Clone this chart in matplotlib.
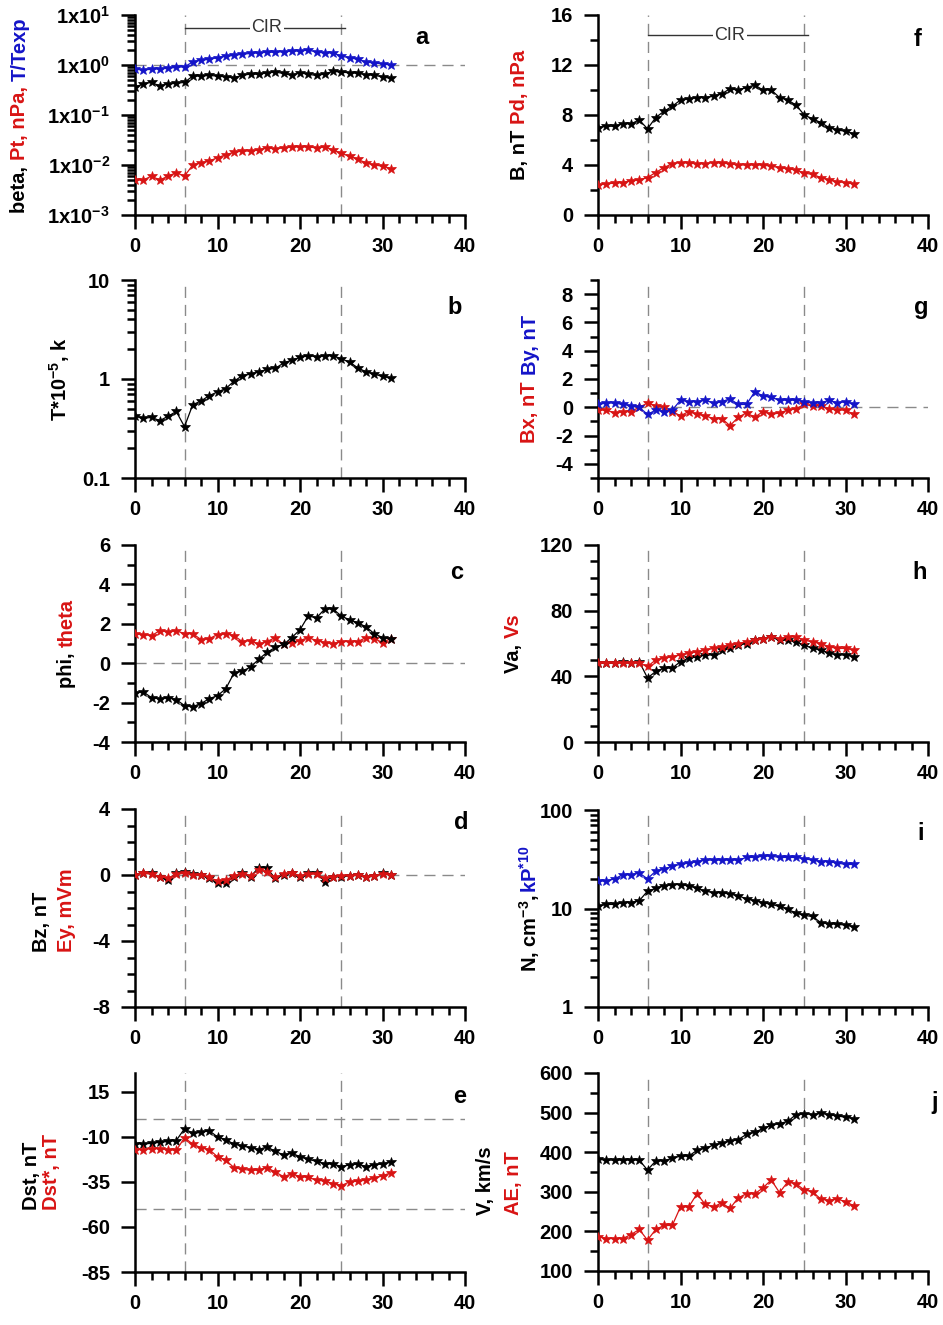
import numpy as np
import matplotlib
matplotlib.use('Agg')
import matplotlib.pyplot as plt
import matplotlib.ticker as mticker
import matplotlib.transforms as mtrans

plt.rcParams['font.family'] = ['Liberation Sans', 'DejaVu Sans']
plt.rcParams['font.weight'] = 'bold'
plt.rcParams['mathtext.fontset'] = 'custom'
plt.rcParams['mathtext.rm'] = 'Liberation Sans:bold'
plt.rcParams['mathtext.it'] = 'Liberation Sans:bold'
plt.rcParams['mathtext.bf'] = 'Liberation Sans:bold'
plt.rcParams['mathtext.default'] = 'rm'
plt.rcParams['axes.unicode_minus'] = False

hours = np.arange(32)

# a: beta (black), Pt nPa (red), T/Texp (blue)
beta = [0.36, 0.42, 0.45, 0.38, 0.42, 0.43, 0.45, 0.60, 0.60, 0.62, 0.60, 0.58, 0.56, 0.62, 0.66, 0.65,
        0.70, 0.72, 0.68, 0.62, 0.70, 0.65, 0.62, 0.66, 0.75, 0.72, 0.70, 0.68, 0.64, 0.62, 0.58, 0.54]
pt = [0.005, 0.005, 0.006, 0.005, 0.006, 0.007, 0.006, 0.010, 0.011, 0.012, 0.014, 0.016, 0.018, 0.019, 0.019, 0.020,
      0.022, 0.021, 0.022, 0.023, 0.023, 0.023, 0.022, 0.023, 0.020, 0.017, 0.015, 0.013, 0.011, 0.010, 0.0095, 0.0085]
t_texp = [0.82, 0.80, 0.82, 0.84, 0.86, 0.90, 0.92, 1.15, 1.25, 1.30, 1.40, 1.50, 1.55, 1.65, 1.70, 1.75,
          1.80, 1.80, 1.85, 1.90, 1.90, 2.00, 1.80, 1.75, 1.75, 1.50, 1.40, 1.30, 1.15, 1.10, 1.05, 1.00]

# b: T*10^-5
temp = [0.42, 0.40, 0.41, 0.38, 0.42, 0.47, 0.33, 0.55, 0.60, 0.68, 0.74, 0.80, 0.95, 1.08, 1.12, 1.18,
        1.25, 1.28, 1.45, 1.55, 1.65, 1.72, 1.68, 1.72, 1.72, 1.60, 1.48, 1.30, 1.18, 1.12, 1.06, 1.02]

# c: phi (black), theta (red)
phi = [-1.5, -1.45, -1.75, -1.8, -1.75, -1.85, -2.15, -2.2, -2.05, -1.8, -1.65, -1.3, -0.5, -0.4, -0.2, 0.2,
       0.55, 0.8, 0.95, 1.3, 1.7, 2.4, 2.3, 2.75, 2.75, 2.4, 2.2, 2.05, 1.85, 1.5, 1.3, 1.25]
theta = [1.5, 1.45, 1.4, 1.65, 1.6, 1.65, 1.5, 1.5, 1.2, 1.25, 1.45, 1.5, 1.4, 1.1, 1.15, 0.95,
         1.1, 1.3, 0.95, 1.05, 1.15, 1.3, 1.15, 1.05, 1.0, 1.1, 1.1, 1.1, 1.3, 1.25, 1.05, 1.25]

# d: Bz (black), Ey (red)
bz = [0.0, 0.15, 0.1, -0.15, -0.3, 0.1, 0.2, 0.05, 0.0, -0.2, -0.5, -0.5, -0.1, 0.15, -0.1, 0.45,
      0.4, -0.2, 0.0, 0.15, -0.1, 0.1, 0.15, -0.4, -0.1, -0.1, -0.05, 0.0, -0.15, -0.05, 0.1, 0.0]
ey = [0.0, 0.1, 0.05, -0.1, -0.2, 0.05, 0.1, 0.0, 0.0, -0.15, -0.35, -0.3, -0.05, 0.05, -0.05, 0.3,
      0.2, -0.15, 0.05, 0.1, -0.05, 0.05, 0.05, -0.2, -0.1, -0.05, -0.05, 0.0, -0.1, -0.05, 0.05, 0.0]

# e: Dst (black), Dst* (red)
dst = [-13.7, -14, -13.5, -13, -12.5, -12, -5.4, -8, -7.5, -6.5, -10, -11.5, -14, -15, -16, -17,
       -15.5, -18, -20, -19, -21, -22.5, -23.5, -25, -25, -26.5, -25.5, -25, -26.5, -25.5, -25, -24]
dst_star = [-17, -17, -16.5, -16.5, -17, -17.5, -10.4, -14, -16, -17, -21, -23, -27, -28, -28.5, -28.5,
            -27, -29.5, -32, -30.5, -32, -32.5, -34, -34.5, -36, -37, -35, -34.5, -34, -33, -31.5, -30]

# f: B (black), Pd (red)
b_tot = [7.0, 7.1, 7.1, 7.3, 7.3, 7.6, 6.9, 7.8, 8.3, 8.7, 9.2, 9.3, 9.4, 9.4, 9.5, 9.7,
         10.1, 10.0, 10.2, 10.4, 10.0, 10.0, 9.4, 9.2, 8.8, 8.0, 7.7, 7.4, 7.0, 6.8, 6.7, 6.5]
pd_ = [2.4, 2.5, 2.55, 2.6, 2.75, 2.8, 3.0, 3.4, 3.8, 4.1, 4.2, 4.15, 4.1, 4.1, 4.2, 4.15,
       4.1, 4.0, 4.0, 4.0, 4.0, 3.9, 3.8, 3.7, 3.6, 3.35, 3.25, 3.0, 2.8, 2.65, 2.6, 2.5]

# g: Bx (red), By (blue)
bx = [-0.2, -0.2, -0.4, -0.3, -0.3, 0.0, 0.3, 0.1, 0.0, -0.3, -0.6, -0.3, -0.5, -0.6, -0.8, -0.8,
      -1.3, -0.7, -0.4, -0.7, -0.3, -0.5, -0.4, -0.2, -0.1, 0.2, 0.1, 0.1, -0.1, -0.2, -0.2, -0.5]
by = [0.2, 0.3, 0.3, 0.2, 0.1, 0.0, -0.5, -0.2, -0.3, -0.2, 0.5, 0.4, 0.4, 0.5, 0.3, 0.4,
      0.6, 0.2, 0.2, 1.1, 0.8, 0.7, 0.5, 0.5, 0.5, 0.4, 0.3, 0.3, 0.5, 0.3, 0.4, 0.2]

# h: Va (black), Vs (red)
va = [48, 48, 48, 49, 48, 49, 39, 43, 45, 45, 49, 51, 52, 53, 53, 56,
      57, 59, 60, 62, 63, 64, 62, 62, 61, 59, 57, 56, 54, 53, 53, 52]
vs = [48, 48, 48, 48, 48, 48, 46, 50, 51, 52, 53, 54, 55, 56, 57, 58,
      59, 60, 61, 62, 63, 64, 63, 64, 64, 62, 61, 60, 58, 57, 57, 56]

# i: N (black), Kp*10 (blue)
dens = [10.5, 11, 11, 11.5, 11.5, 12, 15, 16, 17, 17.5, 17.5, 17, 16, 15, 14.5, 14.5,
        14, 13.5, 12.5, 12, 11.5, 11, 10.5, 9.8, 9, 8.5, 8.3, 7.2, 7.0, 6.9, 6.8, 6.5]
kp10 = [19, 19, 20, 22, 22, 23, 20, 24, 25, 27, 28, 29, 30, 31, 31, 31,
        31, 31, 33, 33, 34, 34, 33, 33, 33, 32, 31, 30, 30, 29, 28, 28]

# j: V (black), AE (red)
vsw = [382, 380, 380, 380, 380, 380, 355, 378, 378, 385, 390, 390, 405, 410, 418, 422,
       428, 432, 445, 450, 460, 468, 472, 478, 495, 497, 495, 498, 495, 492, 488, 485]
ae = [187, 182, 182, 182, 192, 205, 178, 205, 215, 215, 262, 262, 295, 268, 262, 272,
      258, 285, 295, 295, 310, 330, 298, 325, 320, 305, 300, 282, 278, 282, 275, 265]

cir_start, cir_end = 6, 25

RED = '#d81414'
BLUE = '#1414c8'
GREY = '#8a8a8a'
FS = 14.5

fig = plt.figure(figsize=(9.43, 13.25), dpi=100)
W, H = 943, 1325


def make_ax(left_px, top_px, bottom_px):
    return fig.add_axes([left_px / W, 1 - bottom_px / H, 330 / W, (bottom_px - top_px) / H])


def style(ax):
    for s in ['top', 'right']:
        ax.spines[s].set_visible(False)
    for s in ['left', 'bottom']:
        ax.spines[s].set_linewidth(1.8)
    ax.set_xlim(0, 40)
    ax.xaxis.set_major_locator(mticker.MultipleLocator(10))
    ax.xaxis.set_minor_locator(mticker.MultipleLocator(2))
    ax.tick_params(which='major', length=10, width=1.8, labelsize=FS)
    ax.tick_params(which='minor', length=6, width=1.8)
    ax.tick_params(axis='x', which='major', pad=6)
    ax.tick_params(axis='y', which='major', pad=8)
    ax.axvline(cir_start, color=GREY, lw=1, dashes=(8, 5), zorder=0)
    ax.axvline(cir_end, color=GREY, lw=1, dashes=(8, 5), zorder=0)


def series(ax, y, color):
    ax.plot(hours, y, color=color, lw=0.9, marker='*', ms=7, mew=0.5, zorder=3)


def letter(ax, s, x, y):
    ax.text(x, y, s, transform=ax.transAxes, fontsize=17, fontweight='bold', ha='center', va='center')


def cir(ax, y):
    tr = mtrans.blended_transform_factory(ax.transData, ax.transAxes)
    ax.plot([cir_start, cir_end + 0.5], [y, y], color='#333333', lw=1, transform=tr)
    ax.text(16, y, 'CIR', transform=tr, ha='center', va='center', fontsize=13, fontweight='normal',
            color='#333333', bbox=dict(facecolor='white', edgecolor='none', pad=1))


def color_label(ax, x_px, parts, bottom_px=None):
    r = fig.canvas.get_renderer()
    axbox = ax.get_window_extent(r)
    x = (x_px - axbox.x0) / axbox.width
    texts = []
    for s, c in parts:
        t = ax.text(x, 0.5, s, color=c, rotation=90, transform=ax.transAxes, ha='center', va='bottom',
                    fontsize=FS, fontweight='bold')
        texts.append(t)
    hs = [t.get_window_extent(r).height / axbox.height for t in texts]
    if bottom_px is None:
        y = 0.5 - sum(hs) / 2
    else:
        y = ((H - bottom_px) - axbox.y0) / axbox.height
    for t, h in zip(texts, hs):
        t.set_y(y)
        y += h


def log_fmt(v, pos):
    e = int(round(np.log10(v)))
    return '1x10$^{%d}$' % e


def plain_fmt(v, pos):
    return '%g' % v


# --- left column ---
ax_a = make_ax(135, 15, 215)
style(ax_a)
ax_a.set_yscale('log')
ax_a.set_ylim(1e-3, 1e1)
ax_a.yaxis.set_major_locator(mticker.LogLocator(base=10, numticks=10))
ax_a.yaxis.set_minor_locator(mticker.LogLocator(base=10, subs=np.arange(2, 10), numticks=10))
ax_a.yaxis.set_major_formatter(mticker.FuncFormatter(log_fmt))
ax_a.yaxis.set_minor_formatter(mticker.NullFormatter())
ax_a.axhline(1, color=GREY, lw=1, dashes=(8, 5), zorder=0)
series(ax_a, t_texp, BLUE)
series(ax_a, beta, 'black')
series(ax_a, pt, RED)
cir(ax_a, 0.935)
letter(ax_a, 'a', 0.87, 0.89)

ax_b = make_ax(135, 280, 478)
style(ax_b)
ax_b.set_yscale('log')
ax_b.set_ylim(0.1, 10)
ax_b.yaxis.set_major_locator(mticker.LogLocator(base=10, numticks=10))
ax_b.yaxis.set_minor_locator(mticker.LogLocator(base=10, subs=np.arange(2, 10), numticks=10))
ax_b.yaxis.set_major_formatter(mticker.FuncFormatter(plain_fmt))
ax_b.yaxis.set_minor_formatter(mticker.NullFormatter())
series(ax_b, temp, 'black')
letter(ax_b, 'b', 0.97, 0.86)

ax_c = make_ax(135, 545, 742)
style(ax_c)
ax_c.set_ylim(-4, 6)
ax_c.yaxis.set_major_locator(mticker.MultipleLocator(2))
ax_c.yaxis.set_minor_locator(mticker.MultipleLocator(1))
ax_c.axhline(0, color=GREY, lw=1, dashes=(8, 5), zorder=0)
series(ax_c, theta, RED)
series(ax_c, phi, 'black')
letter(ax_c, 'c', 0.975, 0.86)

ax_d = make_ax(135, 809, 1007)
style(ax_d)
ax_d.set_ylim(-8, 4)
ax_d.yaxis.set_major_locator(mticker.MultipleLocator(4))
ax_d.yaxis.set_minor_locator(mticker.MultipleLocator(1))
ax_d.axhline(0, color=GREY, lw=1, dashes=(8, 5), zorder=0)
series(ax_d, bz, 'black')
series(ax_d, ey, RED)
letter(ax_d, 'd', 0.99, 0.93)

ax_e = make_ax(135, 1073, 1272)
style(ax_e)
ax_e.set_ylim(-85, 25.5)
ax_e.set_yticks([-85, -60, -35, -10, 15])
ax_e.axhline(0, color=GREY, lw=1, dashes=(8, 5), zorder=0)
ax_e.axhline(-50, color=GREY, lw=1, dashes=(8, 5), zorder=0)
series(ax_e, dst, 'black')
series(ax_e, dst_star, RED)
letter(ax_e, 'e', 0.985, 0.88)

# --- right column ---
ax_f = make_ax(598, 15, 215)
style(ax_f)
ax_f.set_ylim(0, 16)
ax_f.yaxis.set_major_locator(mticker.MultipleLocator(4))
ax_f.yaxis.set_minor_locator(mticker.MultipleLocator(2))
series(ax_f, b_tot, 'black')
series(ax_f, pd_, RED)
cir(ax_f, 0.90)
letter(ax_f, 'f', 0.967, 0.875)

ax_g = make_ax(598, 280, 478)
style(ax_g)
ax_g.set_ylim(-5, 9)
ax_g.yaxis.set_minor_locator(mticker.MultipleLocator(1))
ax_g.set_yticks([-4, -2, 0, 2, 4, 6, 8])
ax_g.axhline(0, color=GREY, lw=1, dashes=(8, 5), zorder=0)
series(ax_g, bx, RED)
series(ax_g, by, BLUE)
letter(ax_g, 'g', 0.98, 0.86)

ax_h = make_ax(598, 545, 742)
style(ax_h)
ax_h.set_ylim(0, 120)
ax_h.yaxis.set_major_locator(mticker.MultipleLocator(40))
ax_h.yaxis.set_minor_locator(mticker.MultipleLocator(10))
series(ax_h, va, 'black')
series(ax_h, vs, RED)
letter(ax_h, 'h', 0.975, 0.86)

ax_i = make_ax(598, 810, 1007)
style(ax_i)
ax_i.set_yscale('log')
ax_i.set_ylim(1, 100)
ax_i.yaxis.set_major_locator(mticker.LogLocator(base=10, numticks=10))
ax_i.yaxis.set_minor_locator(mticker.LogLocator(base=10, subs=np.arange(2, 10), numticks=10))
ax_i.yaxis.set_major_formatter(mticker.FuncFormatter(plain_fmt))
ax_i.yaxis.set_minor_formatter(mticker.NullFormatter())
series(ax_i, kp10, BLUE)
series(ax_i, dens, 'black')
letter(ax_i, 'i', 0.977, 0.88)

ax_j = make_ax(598, 1073, 1271)
style(ax_j)
ax_j.set_ylim(100, 600)
ax_j.yaxis.set_major_locator(mticker.MultipleLocator(100))
ax_j.yaxis.set_minor_locator(mticker.MultipleLocator(50))
series(ax_j, vsw, 'black')
series(ax_j, ae, RED)
letter(ax_j, 'j', 1.02, 0.85)

# multi-coloured y labels
color_label(ax_a, 20, [('beta, ', 'black'), ('Pt, nPa, ', RED), ('T/Texp', BLUE)])
color_label(ax_b, 60, [('T*10$^{-5}$, k', 'black')])
color_label(ax_c, 67, [('phi, ', 'black'), ('theta', RED)])
color_label(ax_d, 42, [('Bz, nT', 'black')], bottom_px=952)
color_label(ax_d, 67, [('Ey, mVm', RED)], bottom_px=952)
color_label(ax_e, 32, [('Dst, nT', 'black')], bottom_px=1210)
color_label(ax_e, 52, [("Dst*, nT", RED)], bottom_px=1210)
color_label(ax_f, 520, [('B, nT ', 'black'), ('Pd, nPa', RED)])
color_label(ax_g, 530, [('Bx, nT ', RED), ('By, nT', BLUE)])
color_label(ax_h, 513, [('Va, ', 'black'), ('Vs', RED)])
color_label(ax_i, 530, [('N, cm$^{-3}$, ', 'black'), ('kP$^{*10}$', BLUE)])
color_label(ax_j, 485, [('V, km/s', 'black')], bottom_px=1215)
color_label(ax_j, 513, [('AE, nT', RED)], bottom_px=1215)

fig.savefig('out.png', dpi=100)
